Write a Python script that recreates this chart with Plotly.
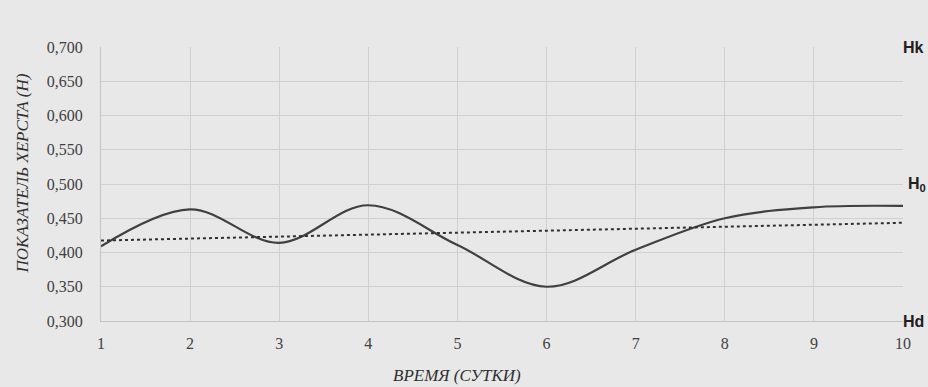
import numpy as np
import plotly.graph_objects as go

days = [1, 2, 3, 4, 5, 6, 7, 8, 9, 10]
hurst = [0.409, 0.463, 0.414, 0.469, 0.411, 0.350, 0.404, 0.450, 0.466, 0.468]
y_ticks = [0.300, 0.350, 0.400, 0.450, 0.500, 0.550, 0.600, 0.650, 0.700]

coef = np.polyfit(days, hurst, 1)
trend = list(np.polyval(coef, days))

fig = go.Figure()
fig.add_trace(go.Scatter(x=days, y=hurst, mode="lines",
                         line=dict(color="#404040", width=2.2, shape="spline", smoothing=1.0),
                         showlegend=False))
fig.add_trace(go.Scatter(x=days, y=trend, mode="lines",
                         line=dict(color="#303030", width=2, dash="dot"),
                         showlegend=False))

serif = "'Liberation Serif', 'Times New Roman', serif"
sans = "'Liberation Sans', Arial, sans-serif"
fig.update_layout(
    width=928, height=387,
    margin=dict(l=101, r=25, t=47, b=66),
    paper_bgcolor="#e8e8e8", plot_bgcolor="#e8e8e8",
    separators=",.",
    font=dict(family=serif, size=16, color="#404040"),
    xaxis=dict(range=[1, 10], tickvals=days, showgrid=True, gridcolor="#d0d0d0", gridwidth=1,
               zeroline=False, showline=True, linecolor="#c4c4c4", ticks="",
               tickfont=dict(family=serif, size=16, color="#404040"), ticklabelstandoff=8),
    yaxis=dict(range=[0.300, 0.700], tickvals=y_ticks, tickformat=".3f", showgrid=True,
               gridcolor="#d0d0d0", gridwidth=1, zeroline=False, showline=True,
               linecolor="#c4c4c4", ticks="", ticklabelstandoff=14,
               tickfont=dict(family=serif, size=16, color="#404040")),
    annotations=[
        dict(text="<i>ПОКАЗАТЕЛЬ ХЕРСТА (H)</i>", xref="paper", yref="paper", x=-0.098, y=0.54,
             xanchor="center", yanchor="middle",
             textangle=-90, showarrow=False, font=dict(family=serif, size=17, color="#303030")),
        dict(text="<i>ВРЕМЯ (СУТКИ)</i>", xref="paper", yref="paper", x=0.444, y=-0.158,
             xanchor="center", yanchor="top", showarrow=False,
             font=dict(family=serif, size=17, color="#303030")),
        dict(text="<b>Hk</b>", xref="paper", yref="y", x=1.0, y=0.700, xanchor="left",
             yanchor="middle", showarrow=False, xshift=-2,
             font=dict(family=sans, size=16, color="#202020")),
        dict(text="<b>H<sub>0</sub></b>", xref="paper", yref="y", x=1.0, y=0.500, xanchor="left",
             yanchor="middle", showarrow=False, xshift=3,
             font=dict(family=sans, size=16, color="#202020")),
        dict(text="<b>Hd</b>", xref="paper", yref="y", x=1.0, y=0.300, xanchor="left",
             yanchor="middle", showarrow=False, xshift=-2,
             font=dict(family=sans, size=16, color="#202020")),
    ],
)
fig.write_html("out.html", config={"displayModeBar": False},
               post_script="document.body.style.margin='0';document.body.style.overflow='hidden';")
